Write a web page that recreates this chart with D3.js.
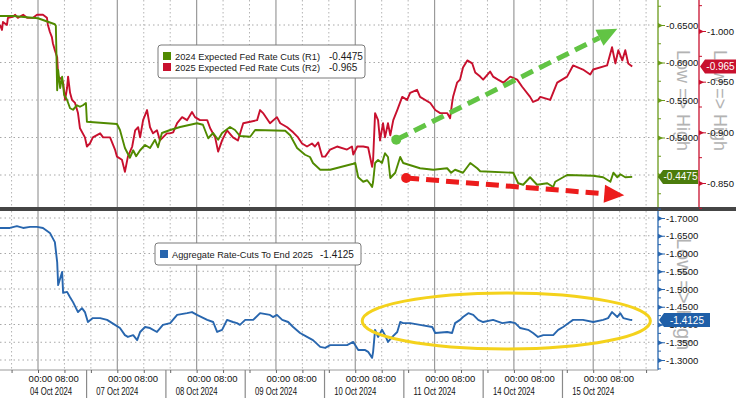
<!DOCTYPE html>
<html>
<head>
<meta charset="utf-8">
<script src="https://cdn.jsdelivr.net/npm/d3@7"></script>
<style>
  body { margin: 0; background: #fff; }
  svg { display: block; font-family: "Liberation Sans", Arial, sans-serif; }
</style>
</head>
<body>
<svg id="chart" width="736" height="398"></svg>
<script>
// hours are trading hours since 04 Oct 2024 00:00 (weekend removed)
const dayLabels = ["04 Oct 2024", "07 Oct 2024", "08 Oct 2024", "09 Oct 2024", "10 Oct 2024", "11 Oct 2024", "14 Oct 2024", "15 Oct 2024"];
const hourLabels = { 0: "00:00", 8: "08:00", 16: "" };

const r1Ticks = [-0.65, -0.6, -0.55, -0.5, -0.45];
const r2Ticks = [-1.0, -0.95, -0.9, -0.85];
const aggTicks = [-1.7, -1.65, -1.6, -1.55, -1.5, -1.45, -1.4, -1.35, -1.3];

// 2024 Expected Fed Rate Cuts (R1)
const r1Hours = [-11.5, -7.6, 0, 5.1, 5.4, 5.8, 6.1, 6.7, 7.3, 7.9, 8.8, 9.7, 10.6, 11.8, 12.7, 13.6, 14.5, 14.8, 23.9, 24.8,
  26.3, 27.8, 28.8, 29.7, 30.9, 32.4, 33.9, 35.4, 36.3, 37.5, 40.0, 43.0, 48.1, 49.9, 51.5, 53.0, 54.5, 55.7, 58.1, 59.6,
  61.1, 64.2, 65.7, 74.8, 76.3, 78.4, 80.8, 82.3, 83.2, 85.4, 88.4, 95.4, 96.0, 96.9, 98.4, 99.6, 100.5, 101.1, 101.4, 102.0,
  102.9, 104.1, 105.0, 105.9, 106.6, 108.1, 109.6, 110.5, 115.6, 119.6, 123.8, 125.0, 126.2, 128.6, 130.8, 132.9, 133.8, 143.8, 145.3, 146.8,
  148.9, 151.0, 154.1, 155.9, 156.5, 160.1, 168.0, 171.0, 173.2, 174.1, 175.3, 176.2, 177.7, 179.8];
const r1Values = [-0.662, -0.662, -0.659, -0.651, -0.649, -0.563, -0.590, -0.566, -0.581, -0.557, -0.550, -0.539, -0.537, -0.543, -0.541, -0.543, -0.546, -0.521, -0.518, -0.510,
  -0.486, -0.473, -0.483, -0.475, -0.483, -0.490, -0.486, -0.497, -0.487, -0.506, -0.510, -0.514, -0.519, -0.517, -0.499, -0.506, -0.497, -0.506, -0.514, -0.510,
  -0.502, -0.501, -0.510, -0.509, -0.503, -0.486, -0.477, -0.474, -0.466, -0.457, -0.457, -0.465, -0.466, -0.447, -0.441, -0.443, -0.438, -0.434, -0.441, -0.466,
  -0.470, -0.466, -0.479, -0.474, -0.446, -0.453, -0.474, -0.466, -0.459, -0.457, -0.459, -0.453, -0.457, -0.453, -0.466, -0.459, -0.455, -0.453, -0.439, -0.437,
  -0.447, -0.437, -0.439, -0.434, -0.441, -0.450, -0.449, -0.447, -0.441, -0.453, -0.447, -0.451, -0.447, -0.4475];

// 2025 Expected Fed Rate Cuts (R2)
const r2Hours = [-11.5, -10.9, -10.6, -9.4, -9.1, -7.6, -6.9, -6.1, -4.5, -3.3, -1.5, -0.3, 1.5, 2.7, 3.0, 3.6, 4.2, 4.5, 5.1, 5.8,
  6.1, 7.3, 7.6, 8.2, 8.8, 9.1, 9.7, 10.3, 11.2, 12.1, 12.7, 14.2, 14.8, 15.7, 16.6, 18.8, 19.7, 21.8, 23.3, 23.9,
  25.4, 26.3, 27.2, 28.5, 29.4, 30.3, 30.9, 31.8, 33.0, 33.9, 34.8, 36.0, 36.9, 37.8, 39.0, 39.9, 40.9, 42.1, 43.6, 45.1,
  46.6, 47.5, 49.0, 51.2, 52.1, 53.6, 54.5, 55.7, 57.2, 59.0, 60.5, 62.1, 66.3, 67.2, 68.1, 70.2, 72.3, 73.3, 75.4, 77.2,
  78.7, 79.9, 81.4, 82.9, 83.8, 84.8, 86.0, 86.9, 88.4, 90.5, 93.5, 95.0, 95.4, 96.6, 98.4, 99.9, 101.1, 101.4, 102.0, 102.9,
  103.5, 104.4, 105.0, 105.9, 106.6, 107.5, 108.7, 110.2, 111.7, 112.6, 114.7, 115.6, 118.7, 120.2, 121.7, 123.8, 124.7, 125.3, 125.6, 126.8,
  127.7, 128.6, 129.9, 131.4, 132.3, 133.8, 134.7, 136.8, 137.7, 139.2, 140.8, 142.9, 145.0, 146.5, 148.9, 149.8, 151.3, 152.0, 155.0, 157.1,
  160.1, 161.9, 164.9, 167.1, 168.0, 172.2, 173.7, 174.7, 175.6, 176.8, 177.7, 178.6, 179.8];
const r2Values = [-1.006, -1.001, -1.009, -1.006, -1.013, -1.014, -1.016, -1.013, -1.016, -1.013, -1.013, -1.016, -1.016, -1.013, -1.006, -0.999, -0.994, -0.988, -0.981, -0.974,
  -0.955, -0.952, -0.949, -0.932, -0.944, -0.955, -0.939, -0.932, -0.929, -0.919, -0.904, -0.895, -0.886, -0.889, -0.895, -0.899, -0.895, -0.895, -0.883, -0.876,
  -0.873, -0.861, -0.876, -0.886, -0.902, -0.905, -0.895, -0.912, -0.922, -0.905, -0.899, -0.902, -0.892, -0.895, -0.899, -0.899, -0.900, -0.909, -0.915, -0.912,
  -0.920, -0.915, -0.912, -0.912, -0.904, -0.895, -0.881, -0.892, -0.902, -0.895, -0.892, -0.909, -0.912, -0.922, -0.919, -0.909, -0.915, -0.909, -0.905, -0.900,
  -0.895, -0.889, -0.886, -0.889, -0.886, -0.890, -0.876, -0.876, -0.883, -0.886, -0.883, -0.886, -0.878, -0.886, -0.886, -0.885, -0.866, -0.873, -0.919, -0.912,
  -0.892, -0.909, -0.895, -0.909, -0.897, -0.912, -0.922, -0.935, -0.932, -0.939, -0.942, -0.935, -0.929, -0.922, -0.919, -0.919, -0.914, -0.929, -0.935, -0.949,
  -0.952, -0.964, -0.971, -0.968, -0.959, -0.955, -0.952, -0.960, -0.955, -0.952, -0.949, -0.955, -0.952, -0.945, -0.935, -0.930, -0.932, -0.935, -0.932, -0.949,
  -0.955, -0.966, -0.962, -0.957, -0.962, -0.966, -0.984, -0.968, -0.981, -0.971, -0.981, -0.968, -0.965];

// Aggregate Rate-Cuts To End 2025
const aggHours = [-11.5, -8.5, -6.4, -4.5, -2.4, -0.3, 1.5, 3.6, 5.1, 5.8, 6.1, 7.3, 7.6, 8.8, 9.7, 10.6, 12.1, 13.3, 14.2, 15.1,
  16.6, 18.8, 20.9, 23.3, 24.8, 26.3, 27.2, 28.8, 30.0, 30.9, 32.4, 33.9, 36.0, 37.8, 40.0, 42.1, 45.1, 46.6, 48.1, 51.2,
  53.0, 54.2, 55.7, 57.2, 59.0, 60.2, 61.1, 62.7, 65.1, 67.2, 70.2, 71.1, 72.3, 73.9, 75.7, 77.2, 79.3, 81.4, 83.2, 85.4,
  86.9, 88.4, 93.5, 95.4, 96.9, 99.0, 99.9, 101.1, 101.4, 102.0, 102.9, 104.1, 105.0, 105.9, 107.2, 108.7, 109.6, 110.5, 112.6, 115.6,
  119.3, 120.2, 123.8, 125.3, 126.2, 127.7, 128.6, 130.2, 131.7, 133.2, 134.7, 137.7, 140.5, 142.9, 144.4, 145.9, 148.3, 149.8, 151.3, 152.9,
  155.9, 157.4, 158.9, 161.0, 161.9, 164.9, 168.0, 171.0, 172.5, 173.7, 175.3, 176.2, 177.1, 179.2, 179.8];
const aggValues = [-1.672, -1.672, -1.677, -1.672, -1.675, -1.675, -1.672, -1.658, -1.632, -1.576, -1.511, -1.548, -1.489, -1.492, -1.477, -1.463, -1.435, -1.446, -1.435, -1.407,
  -1.418, -1.418, -1.413, -1.399, -1.390, -1.370, -1.365, -1.370, -1.356, -1.379, -1.393, -1.390, -1.379, -1.399, -1.404, -1.427, -1.432, -1.435, -1.427, -1.413,
  -1.407, -1.379, -1.385, -1.413, -1.407, -1.404, -1.399, -1.413, -1.413, -1.432, -1.427, -1.421, -1.427, -1.413, -1.407, -1.393, -1.376, -1.365, -1.356, -1.337,
  -1.334, -1.342, -1.342, -1.351, -1.328, -1.328, -1.323, -1.306, -1.323, -1.385, -1.365, -1.385, -1.370, -1.351, -1.365, -1.379, -1.407, -1.404, -1.404, -1.399,
  -1.393, -1.376, -1.379, -1.376, -1.404, -1.413, -1.421, -1.432, -1.427, -1.413, -1.407, -1.413, -1.404, -1.407, -1.404, -1.390, -1.385, -1.376, -1.365, -1.370,
  -1.370, -1.385, -1.393, -1.407, -1.413, -1.413, -1.407, -1.413, -1.418, -1.435, -1.421, -1.432, -1.418, -1.413, -1.4125];

const legendTop = [
  { name: "2024 Expected Fed Rate Cuts (R1)", last: "-0.4475", color: "#508a00" },
  { name: "2025 Expected Fed Rate Cuts (R2)", last: "-0.965", color: "#c8102e" }
];
const legendBottom = { name: "Aggregate Rate-Cuts To End 2025", last: "-1.4125", color: "#2866ae" };

// annotations, in data units (hours, R1 value / aggregate value)
const greenArrow = { from: [108.4, -0.497], to: [175.3, -0.645] };
const redArrow = { from: [111.4, -0.446], to: [177.4, -0.423] };
const ellipse = { center: [141.7, -1.410], halfHours: 43.6, halfValue: 0.079 };

const svg = d3.select("#chart");
const plotW = 656;
const topP = { y0: 0, y1: 207 };
const botP = { y0: 211, y1: 370 };

const x = d3.scaleLinear().domain([-11.5, 187]).range([0, plotW]);
const yR1 = d3.scaleLinear().domain([-0.65, -0.45]).range([25, 175]);
const yR2 = d3.scaleLinear().domain([-1.0, -0.85]).range([31, 183]);
const yAgg = d3.scaleLinear().domain([-1.7, -1.3]).range([218, 360]);

const defs = svg.append("defs");
defs.append("clipPath").attr("id", "clipTop").append("rect")
  .attr("x", 0).attr("y", topP.y0).attr("width", plotW).attr("height", topP.y1 - topP.y0);
defs.append("clipPath").attr("id", "clipBot").append("rect")
  .attr("x", 0).attr("y", botP.y0).attr("width", plotW).attr("height", botP.y1 - botP.y0);

// vertical grid (00:00 solid, 08:00 / 16:00 dotted)
const hourTicks = d3.range(-8, 185, 8);
[topP, botP].forEach(p => {
  svg.append("g").selectAll("line").data(hourTicks).join("line")
    .attr("x1", d => x(d)).attr("x2", d => x(d))
    .attr("y1", p.y0).attr("y2", p.y1)
    .attr("stroke", d => d % 24 === 0 ? "#9a9a9a" : "#b4b4b4")
    .attr("stroke-width", d => d % 24 === 0 ? 1.2 : 1)
    .attr("stroke-dasharray", d => d % 24 === 0 ? null : "1.5,2.5");
});

// horizontal grid
svg.append("g").selectAll("line").data(r1Ticks).join("line")
  .attr("x1", 0).attr("x2", plotW).attr("y1", d => yR1(d)).attr("y2", d => yR1(d))
  .attr("stroke", "#a8a8a8").attr("stroke-dasharray", "1.5,3");
svg.append("g").selectAll("line").data(aggTicks).join("line")
  .attr("x1", 0).attr("x2", plotW).attr("y1", d => yAgg(d)).attr("y2", d => yAgg(d))
  .attr("stroke", "#a8a8a8").attr("stroke-dasharray", "1.5,3");

// lines
function drawLine(hours, values, y, color, clip) {
  const pts = hours.map((h, i) => [h, values[i]]);
  svg.append("path").datum(pts)
    .attr("clip-path", `url(#${clip})`)
    .attr("fill", "none").attr("stroke", color).attr("stroke-width", 1.9)
    .attr("stroke-linejoin", "round")
    .attr("d", d3.line().x(d => x(d[0])).y(d => y(d[1])));
}
drawLine(r2Hours, r2Values, yR2, legendTop[1].color, "clipTop");
drawLine(r1Hours, r1Values, yR1, legendTop[0].color, "clipTop");
drawLine(aggHours, aggValues, yAgg, legendBottom.color, "clipBot");

// annotation arrows
function arrow(a, color) {
  const x0 = x(a.from[0]), y0 = yR1(a.from[1]);
  const x1 = x(a.to[0]), y1 = yR1(a.to[1]);
  const ang = Math.atan2(y1 - y0, x1 - x0);
  const headLen = 20, headW = 9;
  const bx = x1 - headLen * Math.cos(ang), by = y1 - headLen * Math.sin(ang);
  const g = svg.append("g");
  g.append("line").attr("x1", x0).attr("y1", y0).attr("x2", bx).attr("y2", by)
    .attr("stroke", color).attr("stroke-width", 5).attr("stroke-dasharray", "13,7");
  g.append("circle").attr("cx", x0).attr("cy", y0).attr("r", 5).attr("fill", color);
  const px = -Math.sin(ang), py = Math.cos(ang);
  g.append("path").attr("fill", color)
    .attr("d", `M${x1},${y1}L${bx + px * headW},${by + py * headW}L${bx - px * headW},${by - py * headW}Z`);
}
arrow(greenArrow, "#62c444");
arrow(redArrow, "#ec1c1c");

// yellow ellipse
svg.append("ellipse")
  .attr("cx", x(ellipse.center[0])).attr("cy", yAgg(ellipse.center[1]))
  .attr("rx", x(ellipse.center[0] + ellipse.halfHours) - x(ellipse.center[0]))
  .attr("ry", yAgg(ellipse.center[1] + ellipse.halfValue) - yAgg(ellipse.center[1]))
  .attr("fill", "none").attr("stroke", "#f4d21c").attr("stroke-width", 3);

// separator between panels
svg.append("rect").attr("x", 0).attr("y", topP.y1).attr("width", 736).attr("height", botP.y0 - topP.y1).attr("fill", "#454545");

// "Low => High" captions
function caption(cx, cy, size) {
  svg.append("text").attr("transform", `translate(${cx},${cy}) rotate(90)`)
    .attr("font-size", size).attr("fill", "#b3b3b3").text("Low => High");
}
caption(677, 50, 18);
caption(714, 50, 18);
caption(677, 238, 20);

// right axes
function rightAxis(scale, ticks, xPos, color, fmt, y0, y1, minor) {
  const g = svg.append("g").attr("transform", `translate(${xPos},0)`);
  g.append("line").attr("x1", 0).attr("x2", 0).attr("y1", y0).attr("y2", y1).attr("stroke", color).attr("stroke-width", 1.3);
  g.selectAll(".minor").data(minor).join("line")
    .attr("x1", 0).attr("x2", 3).attr("y1", d => scale(d)).attr("y2", d => scale(d)).attr("stroke", color);
  const ax = d3.axisRight(scale).tickValues(ticks).tickSize(0).tickPadding(8).tickFormat(fmt);
  const a = g.append("g").call(ax);
  a.select(".domain").remove();
  a.selectAll("text").attr("font-size", 9.5).attr("fill", "#111").attr("font-family", '"Liberation Sans", Arial, sans-serif');
  a.selectAll(".tick").append("path").attr("d", "M0,-2.5L5,0L0,2.5Z").attr("fill", color);
  a.selectAll(".tick").append("line").attr("x1", 0).attr("x2", 7).attr("stroke", color);
}
const halfSteps = (ticks, step) => ticks.map(t => t + step / 2);
rightAxis(yR1, r1Ticks, 658, "#6a9a1a", d => d.toFixed(4), topP.y0, topP.y1, halfSteps([-0.7, ...r1Ticks], 0.05));
rightAxis(yR2, r2Ticks, 699, "#c8102e", d => d.toFixed(3), topP.y0, topP.y1, halfSteps([-1.05, ...r2Ticks], 0.05));
rightAxis(yAgg, aggTicks, 658, "#2866ae", d => d.toFixed(4), botP.y0, botP.y1, halfSteps([-1.75, ...aggTicks], 0.05));

// last-value badges
function badge(xPos, yPos, w, fill, label) {
  const h = 14;
  svg.append("path").attr("fill", fill)
    .attr("d", `M${xPos},${yPos}L${xPos + 5},${yPos - h / 2}L${xPos + w},${yPos - h / 2}L${xPos + w},${yPos + h / 2}L${xPos + 5},${yPos + h / 2}Z`);
  svg.append("text").attr("x", xPos + 5 + (w - 5) / 2).attr("y", yPos + 3.5)
    .attr("text-anchor", "middle").attr("font-size", 10).attr("fill", "#fff").text(label);
}
badge(658, yR1(r1Values[r1Values.length - 1]), 40, "#4b7c0c", legendTop[0].last);
badge(700, yR2(r2Values[r2Values.length - 1]), 36, "#c8102e", legendTop[1].last);
badge(659, yAgg(aggValues[aggValues.length - 1]), 51, "#1f5fa8", legendBottom.last);

// legends
function legend(x0, y0, w, items, textLen, valueX) {
  const g = svg.append("g");
  g.append("rect").attr("x", x0).attr("y", y0).attr("width", w).attr("height", 11 * items.length + 11)
    .attr("rx", 3).attr("fill", "#fff").attr("stroke", "#7a7a7a");
  items.forEach((it, i) => {
    const cy = y0 + 11 + i * 11;
    g.append("rect").attr("x", x0 + 5).attr("y", cy - 4).attr("width", 8).attr("height", 8).attr("fill", it.color);
    g.append("text").attr("x", x0 + 17).attr("y", cy + 4).attr("font-size", 9.4).attr("fill", "#1a1a1a")
      .attr("textLength", textLen).attr("lengthAdjust", "spacingAndGlyphs").text(it.name);
    g.append("text").attr("x", valueX).attr("y", cy + 4).attr("font-size", 10).attr("fill", "#1a1a1a").text(it.last);
  });
}
legend(158, 45, 207, legendTop, 145, 329);
legend(155, 243, 206, [legendBottom], 141, 320);

// x axis
const xa = svg.append("g").attr("transform", `translate(0,${botP.y1})`);
xa.append("line").attr("x1", 0).attr("x2", 658).attr("stroke", "#9a9a9a");
const xAxis = d3.axisBottom(x).tickValues(hourTicks).tickSize(3).tickPadding(2)
  .tickFormat(d => hourLabels[((d % 24) + 24) % 24]);
const xg = xa.append("g").call(xAxis);
xg.select(".domain").remove();
xg.selectAll("line").attr("stroke", "#666");
xg.selectAll("text").attr("font-size", 9.5).attr("fill", "#111").attr("dx", 2).attr("font-family", '"Liberation Sans", Arial, sans-serif');

// day separators in axis area and day labels
const sepHours = dayLabels.slice(0, -1).map((_, i) => i * 24 + 14.7);
xa.selectAll(".sep").data(sepHours).join("line")
  .attr("x1", d => x(d)).attr("x2", d => x(d)).attr("y1", 0).attr("y2", 28)
  .attr("stroke", "#8a8a8a").attr("stroke-width", 1.2);
xa.selectAll(".day").data(dayLabels).join("text")
  .attr("x", (d, i) => Math.max(x(i * 24), 51)).attr("y", 25)
  .attr("text-anchor", "middle").attr("font-size", 10.5).attr("fill", "#111")
  .attr("textLength", 42).attr("lengthAdjust", "spacingAndGlyphs").text(d => d);
</script>
</body>
</html>
